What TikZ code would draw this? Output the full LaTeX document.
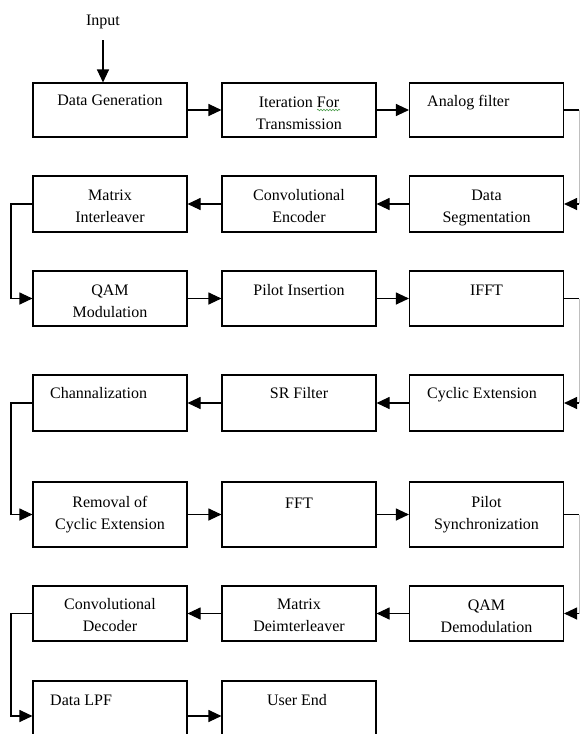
\documentclass[tikz,border=0pt]{standalone}
\usepackage{fontspec}
\setmainfont{Liberation Serif}
\usetikzlibrary{arrows.meta,decorations.pathmorphing}
\begin{document}
\begin{tikzpicture}[x=1pt,y=-1pt,
 box/.style={draw,line width=1.1pt,minimum width=154pt,inner sep=0pt},
 txt/.style={anchor=north,inner sep=0pt,align=center,font=\fontsize{16}{22}\selectfont},
 ltxt/.style={txt,anchor=north west,align=left},
 arr/.style={line width=1.1pt,-{Triangle[length=13pt,width=12pt]}},
 ln/.style={line width=1.1pt},
 faint/.style={line width=1pt,black!25}]
\clip (0,0) rectangle (580,734);
\fill[white] (0,0) rectangle (580,734);
% boxes
\node[box,minimum height=54pt] (b1) at (110,110) {};
\node[box,minimum height=54pt] (b2) at (299,110) {};
\node[box,minimum height=54pt] (b3) at (486.5,110) {};
\node[box,minimum height=56pt] (b4) at (110,204) {};
\node[box,minimum height=56pt] (b5) at (299,204) {};
\node[box,minimum height=56pt] (b6) at (486.5,204) {};
\node[box,minimum height=55pt] (b7) at (110,298.5) {};
\node[box,minimum height=55pt] (b8) at (299,298.5) {};
\node[box,minimum height=55pt] (b9) at (486.5,298.5) {};
\node[box,minimum height=56pt] (b10) at (110,403) {};
\node[box,minimum height=56pt] (b11) at (299,403) {};
\node[box,minimum height=56pt] (b12) at (486.5,403) {};
\node[box,minimum height=65pt] (b13) at (110,514.5) {};
\node[box,minimum height=65pt] (b14) at (299,514.5) {};
\node[box,minimum height=65pt] (b15) at (486.5,514.5) {};
\node[box,minimum height=55pt] (b16) at (110,613.5) {};
\node[box,minimum height=55pt] (b17) at (299,613.5) {};
\node[box,minimum height=55pt] (b18) at (486.5,613.5) {};
\node[box,minimum height=70pt] (b19) at (110,716) {};
\node[box,minimum height=70pt] (b20) at (299,716) {};
% texts
\node[txt] (in) at (103,14.5) {Input};
\node[txt] (t1) at (110,94.5) {Data Generation};
\node[txt] (t2) at (299,96.5) {Iteration For\\Transmission};
\node[ltxt] (t3) at (427,95.5) {Analog filter};
\node[txt] (t4) at (110,189.5) {Matrix\\Interleaver};
\node[txt] (t5) at (299,189.5) {Convolutional\\Encoder};
\node[txt] (t6) at (486.5,189.5) {Data\\Segmentation};
\node[txt] (t7) at (110,284.5) {QAM\\Modulation};
\node[txt] (t8) at (299,284.5) {Pilot Insertion};
\node[txt] (t9) at (486.5,284.5) {IFFT};
\node[ltxt] (t10) at (50,387.5) {Channalization};
\node[txt] (t11) at (299,387.5) {SR Filter};
\node[ltxt] (t12) at (427,387.5) {Cyclic Extension};
\node[txt] (t13) at (110,496.5) {Removal of\\Cyclic Extension};
\node[txt] (t14) at (299,497.5) {FFT};
\node[txt] (t15) at (486.5,496.5) {Pilot\\Synchronization};
\node[txt] (t16) at (110,598.5) {Convolutional\\Decoder};
\node[txt] (t17) at (299,598.5) {Matrix\\Deimterleaver};
\node[txt] (t18) at (486.5,599.5) {QAM\\Demodulation};
\node[ltxt] (t19) at (50,694.5) {Data LPF};
\node[txt] (t20) at (297,694.5) {User End};
% spell-check squiggle
\draw[decorate,decoration={snake,amplitude=0.8pt,segment length=3pt},green!45!black!70,line width=0.6pt] (317,110) -- (340,110);
% input arrow
\coordinate (inp) at (103,40);
\draw[arr] (inp) -- (inp |- b1.north);
% row connectors
\draw[arr] (b1) -- (b2);
\draw[arr] (b2) -- (b3);
\draw[arr] (b6) -- (b5);
\draw[arr] (b5) -- (b4);
\draw[arr] (b7) -- (b8);
\draw[arr] (b8) -- (b9);
\draw[arr] (b12) -- (b11);
\draw[arr] (b11) -- (b10);
\draw[arr] (b13) -- (b14);
\draw[arr] (b14) -- (b15);
\draw[arr] (b18) -- (b17);
\draw[arr] (b17) -- (b16);
\draw[arr] (b19) -- (b20);
% right loops
\coordinate (r) at (579,0);
\draw[ln] (b3.east) -- (b3.east -| r);
\draw[faint] (b3.east -| r) -- (b6.east -| r);
\draw[arr] (b6.east -| r) -- (b6.east);
\draw[ln] (b9.east) -- (b9.east -| r);
\draw[faint] (b9.east -| r) -- (b12.east -| r);
\draw[arr] (b12.east -| r) -- (b12.east);
\draw[ln] (b15.east) -- (b15.east -| r);
\draw[faint] (b15.east -| r) -- (b18.east -| r);
\draw[arr] (b18.east -| r) -- (b18.east);
% left loops
\coordinate (l) at (11,0);
\draw[arr] (b4.west) -- (b4.west -| l) -- (b7.west -| l) -- (b7.west);
\draw[arr] (b10.west) -- (b10.west -| l) -- (b13.west -| l) -- (b13.west);
\draw[arr] (b16.west) -- (b16.west -| l) -- (b19.west -| l) -- (b19.west);
\end{tikzpicture}
\end{document}
